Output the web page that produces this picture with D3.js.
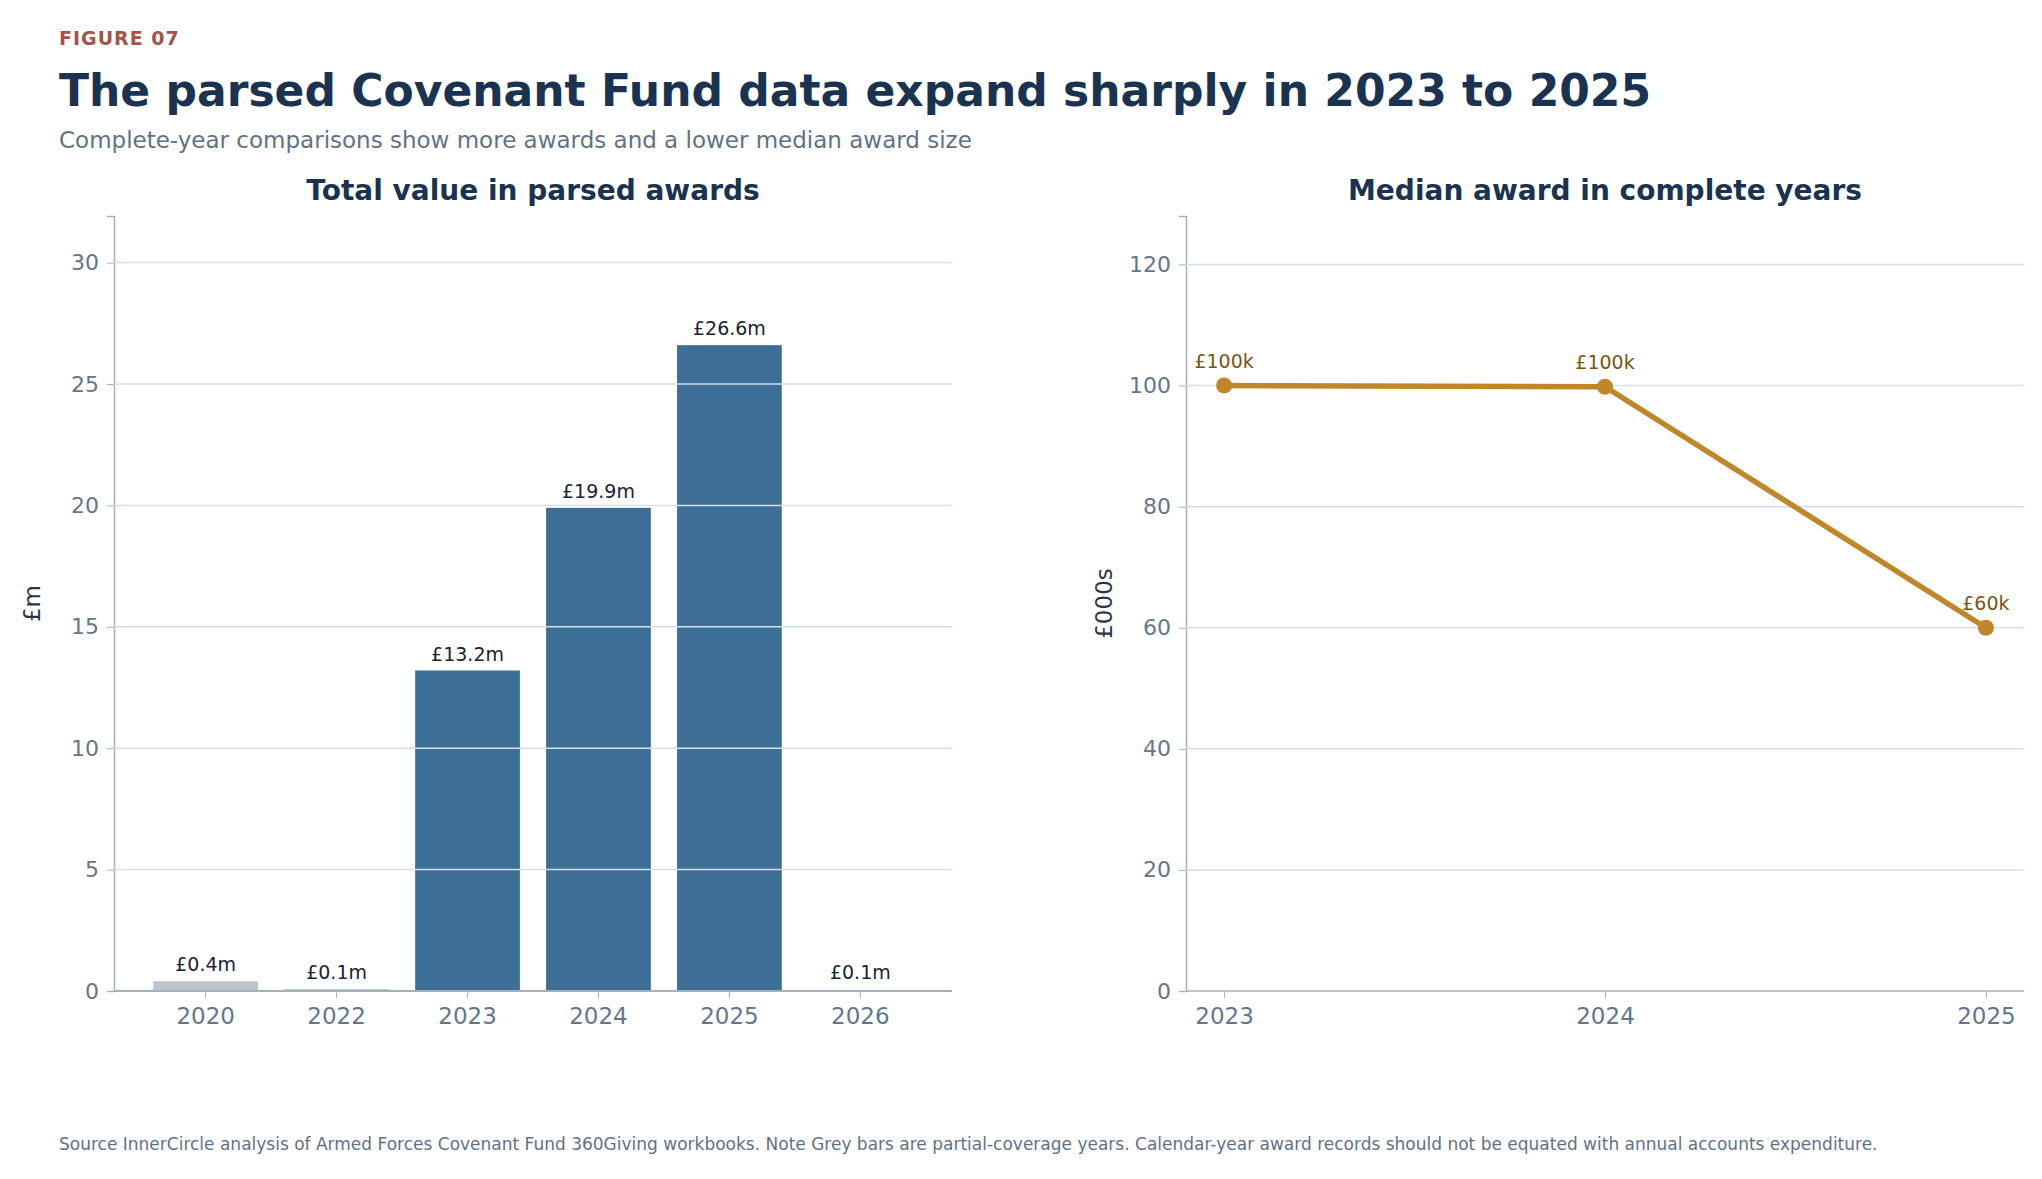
<!DOCTYPE html>
<html><head><meta charset="utf-8">
<script src="https://cdn.jsdelivr.net/npm/d3@7"></script>
<style>body{margin:0;background:#fff}text{font-family:"DejaVu Sans",sans-serif}</style>
</head><body><svg id="c" width="2042" height="1179"></svg>
<script>
const years = ["2020","2022","2023","2024","2025","2026"];
const totals = [0.4, 0.08, 13.2, 19.9, 26.6, 0.03];
const totalLabels = ["£0.4m","£0.1m","£13.2m","£19.9m","£26.6m","£0.1m"];
const partial = [true,true,false,false,false,true];
const medYears = ["2023","2024","2025"];
const medians = [100, 99.8, 60];
const medLabels = ["£100k","£100k","£60k"];
const leftTicks = [0,5,10,15,20,25,30];
const rightTicks = [0,20,40,60,80,100,120];

const svg = d3.select("#c");
const navy="#1a3350", grey="#64778a", grid="#d5dee8", axc="#a3b1bf";
svg.append("text").attr("x",59).attr("y",45).attr("fill","#a5524a").attr("font-size",19).attr("font-weight","bold").attr("letter-spacing",1).text("FIGURE 07");
svg.append("text").attr("x",59).attr("y",106).attr("fill",navy).attr("font-size",44).attr("font-weight","bold").text("The parsed Covenant Fund data expand sharply in 2023 to 2025");
svg.append("text").attr("x",59).attr("y",148).attr("fill","#5f7284").attr("font-size",23).text("Complete-year comparisons show more awards and a lower median award size");
svg.append("text").attr("x",59).attr("y",1150).attr("fill","#5f7284").attr("font-size",17).text("Source  InnerCircle analysis of Armed Forces Covenant Fund 360Giving workbooks.   Note  Grey bars are partial-coverage years. Calendar-year award records should not be equated with annual accounts expenditure.");

const T=216, B=991;
function panel(x0,x1,title,ylab,ymax,ticks){
  const y=d3.scaleLinear().domain([0,ymax]).range([B,T]);
  const g=svg.append("g");
  svg.append("text").attr("x",(x0+x1)/2).attr("y",200).attr("text-anchor","middle").attr("fill",navy).attr("font-size",28).attr("font-weight","bold").text(title);
  svg.append("text").attr("transform",`translate(${x0-74},${(T+B)/2}) rotate(-90)`).attr("text-anchor","middle").attr("fill","#2a3645").attr("font-size",23).text(ylab);
  const ax=svg.append("g").attr("transform",`translate(${x0},0)`).call(d3.axisLeft(y).tickValues(ticks).tickSize(7).tickPadding(8));
  ax.selectAll("text").attr("fill",grey).attr("font-size",22);
  ax.selectAll("line").attr("stroke",axc);ax.select(".domain").attr("stroke",axc).attr("stroke-width",1.5);
  return {y,g,ax};
}
// left
const L=panel(114,952,"Total value in parsed awards","£m",31.92,leftTicks);
const xb=d3.scaleBand().domain(years).range([114,952]).paddingInner(0.2).paddingOuter(0.3);
svg.selectAll(".bar").data(years).join("rect").attr("x",d=>xb(d)).attr("width",xb.bandwidth())
 .attr("y",(d,i)=>L.y(totals[i])).attr("height",(d,i)=>B-L.y(totals[i])).attr("fill",(d,i)=>partial[i]?"#bcc4cc":"#3d6e96");
svg.append("g").selectAll("line").data(leftTicks.filter(t=>t>0)).join("line").attr("x1",114).attr("x2",952).attr("y1",d=>L.y(d)).attr("y2",d=>L.y(d)).attr("stroke",grid).attr("stroke-width",1.5);
svg.selectAll(".bl").data(years).join("text").attr("x",d=>xb(d)+xb.bandwidth()/2).attr("y",(d,i)=>L.y(Math.max(totals[i],0.1))-10)
 .attr("text-anchor","middle").attr("fill","#1a2330").attr("font-size",19).text((d,i)=>totalLabels[i]);
const bx=svg.append("g").attr("transform",`translate(0,${B})`).call(d3.axisBottom(xb).tickSize(7).tickPadding(10));
bx.selectAll("text").attr("fill",grey).attr("font-size",23);bx.selectAll("line").attr("stroke",axc);
bx.select(".domain").attr("stroke",axc).attr("stroke-width",2).attr("d","M114,0H952");
// right
const R=panel(1186,2024,"Median award in complete years","£000s",128,rightTicks);
svg.append("g").selectAll("line").data(rightTicks.filter(t=>t>0)).join("line").attr("x1",1186).attr("x2",2024).attr("y1",d=>R.y(d)).attr("y2",d=>R.y(d)).attr("stroke",grid).attr("stroke-width",1.5);
const xp=d3.scalePoint().domain(medYears).range([1186,2024]).padding(0.1);
const px=svg.append("g").attr("transform",`translate(0,${B})`).call(d3.axisBottom(xp).tickSize(7).tickPadding(10));
px.selectAll("text").attr("fill",grey).attr("font-size",23);px.selectAll("line").attr("stroke",axc);
px.select(".domain").attr("stroke",axc).attr("stroke-width",1.5).attr("d","M1186,0H2024");
const pts=medYears.map((d,i)=>[xp(d),R.y(medians[i])]);
svg.append("path").attr("d",d3.line()(pts)).attr("fill","none").attr("stroke","#c0862a").attr("stroke-width",5.5);
svg.selectAll(".pt").data(pts).join("circle").attr("cx",d=>d[0]).attr("cy",d=>d[1]).attr("r",8).attr("fill","#c0862a");
svg.selectAll(".pl").data(pts).join("text").attr("x",d=>d[0]).attr("y",d=>d[1]-18).attr("text-anchor","middle").attr("fill","#7a5510").attr("font-size",19).text((d,i)=>medLabels[i]);
</script></body></html>
